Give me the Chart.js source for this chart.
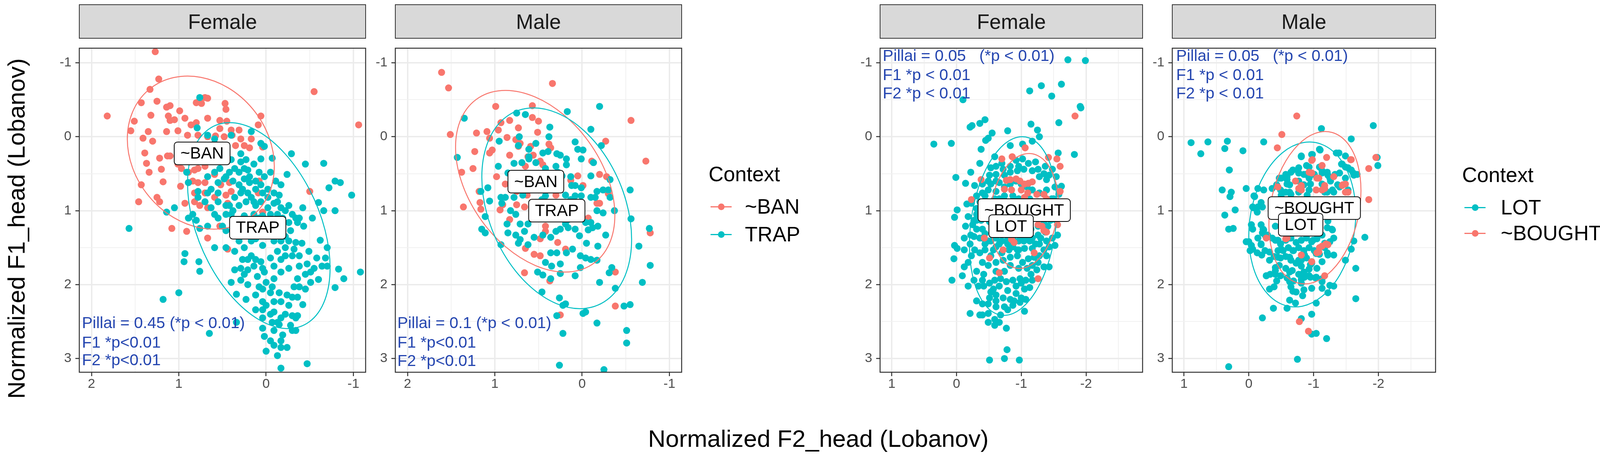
<!DOCTYPE html>
<html>
<head>
<meta charset="utf-8">
<script src="https://cdn.jsdelivr.net/npm/chart.js@4.4.1/dist/chart.umd.min.js"></script>
<style>
  body { margin: 0; background: #fff; width: 4115px; height: 1170px; position: relative; overflow: hidden;
         font-family: "Liberation Sans", Arial, sans-serif; }
  canvas { position: absolute; }
  .strip { position: absolute; top: 11px; height: 88px; background: #d9d9d9; border: 2.5px solid #333;
           box-sizing: border-box; display: flex; align-items: center; justify-content: center;
           font-size: 53px; color: #1a1a1a; }
  .lg { position: absolute; font-size: 53px; line-height: 53px; color: #000; white-space: nowrap; }
  .key-line { position: absolute; height: 3px; width: 54px; }
  .key-dot { position: absolute; width: 17px; height: 17px; border-radius: 50%; }
  .title { position: absolute; font-size: 62px; line-height: 62px; color: #000; white-space: nowrap; }
</style>
</head>
<body>
<div id="root"></div>
<div class="title" style="left:2095px; top:1092px; transform:translateX(-50%);">Normalized F2_head (Lobanov)</div>
<div class="title" style="left:42px; top:585px; transform:translate(-50%,-50%) rotate(-90deg);">Normalized F1_head (Lobanov)</div>
<script>
// ---- data (Normalized F2 = x, Normalized F1 = y) ----
var xTicksBan = [-1, -0.5, 0, 0.5, 1, 1.5, 2];
var xTicksLot = [-2.5, -2, -1.5, -1, -0.5, 0, 0.5, 1];
var yTicks = [-1, -0.5, 0, 0.5, 1, 1.5, 2, 2.5, 3];

var femaleBan = [[1.27,-1.15],[1.23,-0.78],[1.33,-0.64],[1.43,-0.46],[1.25,-0.48],[1.82,-0.28],[1.51,-0.21],[1.55,-0.08],[1.32,-0.29],[1.14,-0.40],[1.10,-0.42],[0.99,-0.35],[0.80,-0.46],[0.74,-0.45],[0.67,-0.52],[0.70,-0.53],[0.76,-0.50],[0.47,-0.45],[0.46,-0.37],[1.12,-0.28],[1.10,-0.22],[1.05,-0.23],[0.93,-0.25],[0.86,-0.16],[0.80,-0.19],[0.67,-0.25],[0.53,-0.22],[0.45,-0.21],[0.53,-0.11],[0.40,-0.09],[0.31,-0.09],[1.35,-0.07],[1.41,0.02],[1.30,0.06],[1.14,-0.07],[1.01,-0.08],[0.90,-0.02],[0.78,-0.02],[0.67,0.00],[0.58,-0.01],[0.48,0.00],[0.39,-0.02],[0.29,0.03],[0.17,0.03],[0.06,-0.28],[0.09,-0.16],[0.04,0.14],[0.19,0.15],[0.25,0.12],[0.35,0.12],[1.39,0.22],[1.37,0.36],[1.34,0.48],[1.22,0.29],[1.20,0.44],[1.18,0.61],[1.13,0.26],[1.10,0.26],[1.01,0.37],[0.97,0.43],[0.89,0.48],[0.82,0.45],[0.78,0.43],[0.70,0.40],[1.43,0.65],[1.46,0.88],[1.22,0.88],[1.25,0.82],[0.98,0.67],[0.89,0.62],[0.84,0.60],[0.78,0.62],[0.70,0.62],[0.59,0.51],[0.52,0.65],[0.42,0.62],[0.40,0.74],[0.46,0.79],[0.44,0.90],[0.59,0.82],[0.70,0.76],[0.82,0.76],[0.82,0.88],[0.93,0.90],[0.76,0.93],[0.67,0.96],[0.08,0.60],[0.09,0.76],[0.04,1.02],[1.08,1.24],[0.91,1.28],[0.67,1.37],[0.53,1.21],[0.44,1.52],[-0.50,0.74],[-0.55,-0.61],[-1.06,-0.16],[0.59,0.09]];

var femaleTrap = [[0.76,-0.53],[0.79,-0.12],[0.67,-0.02],[0.59,0.03],[0.40,-0.02],[0.17,-0.07],[0.06,0.09],[0.02,0.13],[-0.07,0.29],[0.06,0.30],[-0.29,0.23],[-0.45,0.37],[-0.66,0.36],[-0.79,0.60],[-0.85,0.62],[-0.72,0.69],[-0.98,0.79],[-0.79,1.00],[-0.60,0.89],[-0.66,1.00],[-0.53,1.10],[-0.42,0.96],[-0.34,1.10],[-0.43,1.21],[-0.36,1.16],[-0.28,1.27],[-0.34,1.43],[-0.41,1.44],[-0.62,1.40],[-0.70,1.50],[-0.68,1.64],[-0.70,1.75],[-0.83,1.79],[-0.89,1.92],[-0.79,2.04],[-1.08,1.83],[-0.60,1.93],[-0.51,1.97],[-0.45,2.06],[-0.42,2.27],[-0.34,2.45],[-0.30,2.62],[-0.24,2.85],[-0.13,2.96],[-0.17,3.13],[-0.47,3.07],[-0.05,2.76],[0.02,2.70],[0.04,2.59],[-0.19,2.68],[-0.28,2.55],[-0.17,2.45],[-0.09,2.37],[0.00,2.28],[0.04,2.23],[0.12,2.14],[0.23,2.20],[0.34,2.13],[0.40,1.97],[0.36,1.80],[0.25,1.86],[0.14,1.75],[0.06,1.69],[-0.05,1.64],[-0.13,1.55],[-0.22,1.61],[-0.32,1.52],[-0.49,1.55],[-0.58,1.64],[-0.38,1.75],[-0.26,1.78],[-0.17,1.83],[-0.09,1.92],[0.00,1.97],[0.08,2.03],[-0.07,2.03],[-0.15,2.11],[-0.24,2.14],[-0.32,2.03],[-0.36,1.92],[-0.45,1.86],[0.17,1.61],[0.25,1.50],[0.31,1.41],[0.38,1.33],[0.46,1.27],[0.50,1.21],[0.55,1.10],[0.59,1.05],[0.63,0.96],[0.70,0.88],[0.78,0.82],[0.84,1.05],[0.89,1.10],[0.80,1.13],[0.76,1.24],[0.67,1.21],[0.59,1.50],[0.46,1.50],[0.93,1.58],[0.94,1.69],[0.77,1.69],[0.76,1.82],[1.00,2.11],[1.18,2.20],[1.57,1.24],[1.14,1.02],[1.05,0.96],[0.91,0.48],[0.89,0.62],[0.78,0.74],[0.67,0.76],[0.63,0.71],[0.55,0.62],[0.48,0.57],[0.42,0.48],[0.36,0.43],[0.29,0.34],[0.23,0.31],[0.14,0.37],[0.08,0.48],[0.02,0.54],[-0.05,0.48],[-0.11,0.60],[-0.17,0.65],[-0.24,0.51],[-0.15,0.79],[-0.09,0.90],[-0.02,0.96],[-0.17,0.96],[-0.26,0.93],[0.04,0.76],[0.12,0.71],[0.19,0.62],[0.25,0.57],[0.31,0.65],[0.29,0.76],[0.36,0.82],[0.42,0.93],[0.31,0.93],[0.23,0.88],[0.17,0.82],[0.12,0.93],[0.04,1.07],[-0.05,1.16],[-0.13,1.27],[-0.22,1.35],[-0.26,1.16],[-0.19,1.10],[0.14,1.05],[0.25,1.07],[0.34,1.13],[0.40,1.05],[0.46,1.05],[0.55,0.88],[0.59,0.48],[0.67,0.54],[0.53,0.43],[0.40,0.31],[0.29,0.23],[0.21,0.45],[0.12,1.38],[0.04,1.47],[-0.09,1.41],[-0.17,1.41],[-0.26,1.41],[0.08,1.27],[0.19,1.27],[0.27,1.24],[0.36,1.55],[0.27,1.66],[0.21,1.80],[0.10,1.89],[0.02,1.83],[0.65,2.66],[0.34,2.51],[-0.07,2.51],[-0.15,2.54],[-0.36,2.42],[0.00,2.90],[-0.17,2.76],[-0.30,2.42],[-0.36,2.17],[0.12,2.34],[0.04,2.45],[-0.09,2.23],
  [0.46,0.54],[0.38,0.60],[0.31,0.48],[0.25,0.43],[0.19,0.54],[0.12,0.60],[0.06,0.65],[-0.02,0.71],[-0.09,0.76],[0.27,0.71],[0.21,0.76],[0.14,0.88],[0.06,0.88],[-0.02,0.82],[-0.13,0.88],[-0.22,1.00],[-0.30,1.05],[-0.38,1.10],[-0.13,1.05],[-0.05,1.05],[0.08,1.10],[0.17,1.16],[0.25,1.33],[0.17,1.41],[0.04,1.33],[-0.22,1.50],[-0.30,1.61],[-0.38,1.61],[-0.47,1.72],[-0.51,1.83],[-0.17,1.66],[-0.09,1.75],[0.04,1.78],[0.12,1.66],[0.21,1.66],[0.29,1.78],[0.29,1.94],[0.21,2.00],[0.04,2.06],[-0.05,2.11],[-0.17,2.23],[-0.26,2.28],[-0.30,2.17],[-0.38,2.03],[-0.55,1.78],[-0.64,1.75],[-0.05,2.40],[-0.13,2.51],[-0.22,2.40],[0.04,2.34],[-0.34,2.62],[-0.09,2.62],[-0.17,2.85],[-0.09,2.82],[0.55,0.76],[0.46,0.93],[0.38,1.00]];

var maleBan = [[1.61,-0.87],[1.53,-0.66],[1.51,-0.03],[0.99,-0.41],[0.57,-0.42],[0.34,-0.72],[-0.56,-0.22],[-0.73,0.33],[-0.27,0.06],[1.21,-0.05],[1.09,-0.07],[1.06,0.02],[0.96,-0.09],[0.93,-0.19],[0.83,-0.22],[0.73,-0.12],[0.57,-0.26],[0.50,-0.21],[0.51,-0.06],[0.86,0.01],[0.76,0.04],[0.71,0.09],[1.23,0.20],[1.06,0.22],[1.03,0.18],[0.83,0.25],[0.73,0.13],[0.59,0.13],[0.62,0.27],[0.56,0.25],[0.48,0.33],[0.45,0.38],[0.65,0.40],[0.38,0.10],[0.36,0.15],[1.25,0.43],[1.38,0.48],[0.98,0.54],[0.88,0.64],[0.75,0.74],[0.56,0.66],[0.42,0.59],[0.30,0.79],[0.13,0.59],[0.05,0.53],[-0.01,0.66],[-0.20,0.51],[-0.28,0.54],[-0.30,0.77],[1.18,0.74],[1.17,0.89],[1.16,0.98],[1.36,0.95],[0.94,0.99],[0.91,0.92],[0.75,0.92],[0.66,0.95],[0.83,1.12],[0.63,0.79],[0.55,0.92],[0.42,1.21],[0.42,1.28],[0.48,1.38],[0.28,1.43],[0.19,1.52],[0.55,1.59],[0.48,1.61],[0.65,1.51],[0.66,1.84],[0.37,1.95],[0.25,2.41],[-0.07,1.10],[-0.17,0.90],[-0.20,0.90],[-0.38,1.83],[-0.38,2.29],[-0.78,1.30],[-0.11,0.33]];

var maleTrap = [[1.35,-0.25],[1.43,0.28],[0.75,-0.32],[0.65,-0.30],[0.17,-0.34],[-0.20,-0.41],[-0.10,-0.10],[0.37,-0.13],[0.38,0.00],[0.08,0.07],[0.05,0.17],[-0.01,0.18],[0.95,0.06],[0.72,0.00],[0.73,0.12],[0.61,0.17],[0.53,0.09],[0.45,0.22],[0.39,0.20],[0.29,0.23],[0.25,0.25],[0.18,0.30],[0.18,0.38],[0.01,0.30],[-0.13,0.35],[-0.10,0.53],[-0.32,0.58],[-0.55,0.72],[-0.56,1.11],[-0.77,1.24],[-0.78,1.74],[-0.65,1.48],[-0.69,1.97],[-0.55,2.27],[-0.48,2.29],[-0.51,2.62],[-0.51,2.79],[-0.17,2.52],[-0.25,3.15],[0.26,3.09],[0.22,2.66],[0.29,2.42],[-0.01,2.39],[-0.04,2.37],[0.19,2.26],[0.22,2.28],[0.26,2.18],[0.46,2.10],[-0.20,1.97],[-0.31,1.84],[-0.34,1.77],[-0.38,2.05],[0.02,1.77],[0.08,1.88],[0.25,1.85],[0.36,1.92],[0.45,1.87],[0.51,1.83],[0.35,1.75],[0.25,1.72],[0.42,1.70],[0.36,1.57],[0.29,1.57],[0.18,1.57],[0.11,1.52],[0.02,1.61],[-0.04,1.64],[-0.10,1.66],[-0.17,1.67],[-0.05,1.44],[-0.18,1.48],[-0.27,1.33],[-0.18,1.21],[-0.12,1.23],[-0.07,1.26],[0.03,1.34],[0.08,1.25],[0.16,1.23],[0.19,1.18],[0.25,1.25],[0.30,1.28],[0.36,1.36],[0.45,1.33],[0.55,1.36],[0.62,1.46],[0.71,1.39],[0.73,1.44],[0.76,1.33],[0.85,1.30],[0.86,1.18],[0.71,1.18],[0.66,1.28],[0.93,1.46],[1.11,1.30],[1.15,1.25],[1.11,1.08],[1.06,0.87],[0.92,0.90],[0.93,0.82],[1.08,0.69],[1.16,0.74],[0.96,0.40],[0.85,0.49],[0.78,0.36],[0.69,0.35],[0.61,0.30],[0.53,0.35],[0.42,0.43],[0.30,0.40],[0.28,0.48],[0.23,0.53],[0.13,0.54],[0.12,0.66],[0.08,0.66],[0.01,0.69],[-0.10,0.82],[-0.15,0.82],[-0.17,0.74],[-0.24,0.72],[-0.30,0.72],[-0.32,0.82],[-0.37,1.00],[-0.24,1.03],[-0.17,1.00],[-0.10,1.16],[-0.04,1.16],[0.03,0.92],[0.13,0.85],[0.19,0.79],[0.28,0.92],[0.36,0.97],[0.48,1.08],[0.56,1.05],[0.62,1.18],[0.76,1.05],[0.82,1.00],[0.68,0.79],[0.78,0.82],[0.88,0.82],[0.16,1.12],[0.26,1.05],[0.42,0.80],[0.46,0.85],[0.25,0.66],[0.08,0.80],[0.01,0.80],[-0.22,0.12],[0.53,0.89],[0.36,1.10],[0.61,0.27]];

var femaleLot = [[-1.72,-1.04],[-1.99,-1.03],[-1.13,-0.62],[-1.31,-0.69],[-1.62,-0.71],[-1.47,-0.55],[-0.10,-0.50],[-1.91,-0.41],[-0.78,2.88],[-0.51,3.02],[-0.74,3.00],[-0.97,3.02],[-1.92,-0.39],[-1.58,-0.19],[-1.15,-0.17],[-1.25,-0.09],[-1.28,0.00],[-1.17,0.06],[-0.44,-0.23],[-0.36,-0.18],[-0.21,-0.13],[-0.24,-0.15],[-0.55,-0.05],[-0.49,0.02],[-0.45,0.05],[-0.79,-0.08],[0.35,0.10],[0.08,0.09],[-0.38,0.17],[-0.83,0.12],[-1.02,0.10],[-1.57,0.22],[-1.82,0.24],[-0.59,0.27],[-0.36,0.36],[-0.22,0.48],[0.01,0.55],[-0.14,0.63],[-0.28,0.66],[-0.53,0.42],[-0.51,0.52],[-0.61,0.51],[-0.72,0.44],[-0.83,0.48],[-0.92,0.32],[-1.02,0.30],[-1.11,0.36],[-1.22,0.34],[-1.37,0.40],[-1.48,0.44],[-1.54,0.54],[-1.62,0.67],[-1.39,0.58],[-1.28,0.54],[-1.17,0.46],[-0.94,0.46],[-0.74,0.52],[-0.66,0.62],[-0.53,0.64],[-0.49,0.72],[-0.40,0.76],[-0.31,0.80],[-0.23,0.90],[-0.16,0.91],[-0.01,0.99],[0.03,1.09],[-0.18,1.08],[-0.14,1.21],[-0.25,1.19],[-0.31,1.13],[-0.40,1.25],[-0.44,1.31],[-0.36,1.37],[-0.27,1.35],[-0.22,1.33],[-0.21,1.45],[-0.01,1.51],[0.03,1.47],[0.04,1.65],[0.07,1.94],[-0.09,1.88],[-0.12,1.76],[-0.18,1.70],[-0.28,1.53],[-0.36,1.57],[-0.44,1.53],[-0.53,1.61],[-0.61,1.70],[-0.72,1.67],[-0.83,1.63],[-0.94,1.61],[-1.02,1.70],[-1.11,1.65],[-1.20,1.63],[-1.28,1.61],[-1.35,1.53],[-1.43,1.76],[-1.35,1.76],[-1.24,1.80],[-1.15,1.86],[-1.07,1.94],[-0.98,1.92],[-0.87,1.94],[-0.77,1.96],[-0.68,1.92],[-0.59,1.94],[-0.51,1.98],[-0.42,1.86],[-0.34,2.02],[-0.42,2.02],[-0.53,2.10],[-0.61,2.14],[-0.72,2.18],[-0.83,2.20],[-0.92,2.12],[-1.05,2.06],[-1.13,2.04],[-1.07,2.20],[-0.98,2.24],[-0.87,2.28],[-0.74,2.30],[-0.61,2.22],[-0.51,2.18],[-0.68,2.41],[-0.59,2.47],[-0.49,2.39],[-0.40,2.41],[-0.36,2.41],[-0.21,2.39],[-0.59,2.55],[-0.77,2.59],[-1.05,2.36],[-0.96,1.41],[-0.87,1.37],[-0.77,1.41],[-0.66,1.45],[-0.61,1.37],[-0.74,1.31],[-0.83,1.29],[-0.92,1.27],[-1.00,1.33],[-1.09,1.35],[-1.17,1.37],[-1.26,1.33],[-1.37,1.29],[-1.41,1.21],[-1.45,1.13],[-1.35,1.17],[-1.50,1.01],[-1.54,0.90],[-1.50,0.84],[-1.58,0.78],[-1.39,0.72],[-1.28,0.76],[-1.17,0.72],[-1.09,0.68],[-1.00,0.64],[-0.92,0.60],[-0.83,0.64],[-0.74,0.68],[-0.61,0.74],[-0.59,0.84],[-0.49,0.88],[-0.40,1.01],[-0.31,1.05],[-0.38,1.13],[-0.51,1.15],[-0.61,1.13],[-0.72,1.17],[-0.83,1.19],[-0.94,1.19],[-1.05,1.21],[-1.15,1.25],[-1.26,1.21],[-1.30,1.09],[-1.39,1.05],[-1.48,1.37],[-1.52,1.47],[-1.56,1.33],[-1.54,1.13],[-1.28,1.45],[-1.17,1.51],[-1.05,1.51],[-0.94,1.53],[-0.81,1.53],[-0.70,1.57],[-0.57,1.53],[-0.49,1.41],
  [-0.61,0.40],[-0.70,0.36],[-0.83,0.40],[-0.96,0.40],[-1.04,0.44],[-1.26,0.44],[-1.35,0.50],[-1.43,0.52],[-0.61,0.60],[-0.49,0.60],[-0.40,0.64],[-0.44,0.80],[-0.36,0.88],[-0.31,0.97],[-0.49,1.01],[-0.53,0.93],[-0.66,0.84],[-0.74,0.80],[-0.87,0.80],[-0.96,0.84],[-1.13,0.84],[-1.26,0.88],[-1.35,0.92],[-1.43,0.96],[-1.47,0.84],[-1.52,0.68],[-0.31,1.25],[-0.40,1.37],[-0.44,1.45],[-0.53,1.41],[-0.61,1.49],[-0.70,1.41],[-0.79,1.45],[-0.87,1.49],[-0.96,1.53],[-1.04,1.41],[-1.13,1.41],[-1.22,1.45],[-1.30,1.37],[-1.39,1.41],[-1.43,1.49],[-1.39,1.61],[-1.26,1.70],[-1.17,1.74],[-1.09,1.78],[-0.96,1.78],[-0.83,1.74],[-0.74,1.82],[-0.61,1.82],[-0.49,1.74],[-0.40,1.70],[-0.31,1.82],[-0.27,1.94],[-0.40,1.94],[-0.66,2.02],[-0.79,2.08],[-0.92,2.02],[-1.00,1.98],[-1.17,1.94],[-0.57,2.06],[-0.49,2.26],[-0.61,2.30],[-0.79,2.34],[-0.89,2.22],[-1.00,2.18],[-0.49,2.51],[-0.66,2.51],[-0.40,2.26],[-0.31,2.22],[-0.18,2.02],[-0.23,1.61],[-0.12,1.53],[-0.12,1.37],[-0.27,1.13],[-0.38,1.01]];

var femaleBought = [[-1.83,-0.28],[-1.06,0.15],[-0.70,0.30],[-0.86,0.27],[-1.42,0.28],[-1.55,0.30],[-1.60,0.40],[-0.38,0.58],[-0.23,0.85],[-0.77,0.59],[-0.83,0.58],[-0.92,0.57],[-0.98,0.60],[-1.05,0.64],[-1.11,0.63],[-1.17,0.61],[-0.74,0.71],[-0.85,0.72],[-1.00,0.72],[-1.10,0.76],[-1.24,0.78],[-1.35,0.78],[-1.39,0.84],[-1.60,0.74],[-1.26,1.19],[-1.35,1.27],[-1.39,1.29],[-1.56,1.19],[-1.32,1.21],[-0.85,1.39],[-0.89,1.43],[-0.72,1.53],[-1.20,1.57],[-0.66,1.84],[-1.26,1.92],[-0.51,1.64],[-0.43,1.37],[-1.05,0.82]];

var maleLot = [[0.89,0.08],[0.74,0.23],[0.63,0.07],[0.33,0.06],[0.37,0.16],[0.09,0.19],[-0.23,0.07],[0.30,0.45],[0.41,0.72],[0.27,0.75],[0.29,0.81],[0.04,0.70],[0.37,1.06],[0.21,0.99],[0.31,1.25],[0.24,1.24],[-0.09,0.81],[-0.14,0.70],[-0.23,0.72],[-0.36,0.70],[-0.07,0.96],[-0.14,0.95],[0.00,1.42],[-0.06,1.52],[-0.19,1.46],[-0.22,1.25],[-0.25,1.33],[-0.06,1.25],[-0.36,1.37],[-0.41,1.21],[-0.46,0.98],[-0.50,0.56],[-0.59,0.54],[-0.68,0.45],[-0.77,0.49],[-0.88,0.51],[-1.01,0.51],[-1.13,0.49],[-1.22,0.52],[-1.26,0.60],[-1.40,0.49],[-1.58,0.45],[-1.67,0.51],[-1.44,0.37],[-1.49,0.26],[-1.35,0.22],[-1.58,0.03],[-1.10,0.18],[-0.98,0.24],[-0.81,0.26],[-1.12,-0.11],[-1.92,-0.15],[-1.98,0.28],[-1.99,0.39],[-1.79,1.36],[-1.65,1.78],[-1.65,2.19],[-1.49,1.67],[-1.62,1.41],[-1.31,2.02],[-1.22,2.11],[-1.04,2.25],[-0.97,2.40],[-0.83,2.15],[-0.81,2.46],[-0.72,2.25],[-0.63,2.21],[-0.59,2.32],[-0.38,2.32],[-0.21,2.45],[-0.97,2.67],[-1.04,2.66],[-1.20,2.73],[-0.75,3.01],[0.31,3.11],[-0.32,2.06],[-0.27,1.88],[-0.41,1.86],[-0.63,1.96],[-0.86,1.90],[-1.04,1.90],[-1.13,1.92],[-0.63,1.83],[-0.41,1.77],[-0.32,1.67],[-0.45,1.63],[-0.63,1.63],[-0.77,1.67],[-0.95,1.73],[-1.13,1.69],[-1.22,1.60],[-1.04,1.58],[-0.86,1.60],[-0.68,1.54],[-0.50,1.52],[-0.45,1.40],[-0.63,1.37],[-0.81,1.40],[-0.99,1.40],[-1.17,1.44],[-1.31,1.37],[-1.28,1.25],[-1.22,1.14],[-1.31,1.06],[-1.13,1.06],[-0.99,1.16],[-1.22,1.00],[-1.04,0.98],[-0.90,0.79],[-0.77,0.75],[-0.63,0.75],[-0.50,0.79],[-0.59,0.64],[-0.77,0.60],[-0.95,0.64],[-1.13,0.64],[-1.31,0.75],[-1.17,0.75],[-1.40,0.68],[-1.53,0.72],[-1.44,0.87],[-1.35,0.95],[-1.22,0.89],[-0.77,0.98],[-0.54,0.95],[-0.41,0.98],[-0.68,1.14],[-1.31,1.60],[-1.58,1.52],[-0.81,1.75],[-0.95,1.90],[-0.81,1.98],[-0.68,2.09],[-1.49,0.56],[-1.62,0.52],[-0.54,1.29],[-0.72,1.25],[-0.90,1.25],[-1.04,1.29],[-0.32,1.56],[-0.20,1.60],[-0.14,1.37],
  [-0.47,0.56],[-0.57,0.51],[-0.65,0.48],[-0.77,0.49],[-0.85,0.51],[-0.93,0.56],[-1.01,0.51],[-1.13,0.46],[-1.21,0.48],[-1.25,0.56],[-1.33,0.51],[-1.37,0.65],[-1.29,0.72],[-1.21,0.75],[-0.93,0.72],[-0.85,0.65],[-0.63,0.65],[-0.57,0.75],[-0.65,0.78],[-0.49,0.72],[-0.43,0.65],[-0.59,0.58],[-0.77,0.42],[-0.93,0.41],[-1.09,0.41],[-0.97,0.24],[-0.81,0.27],[-0.89,0.39],[-1.53,0.42],[-1.61,0.49],[-1.49,0.41],[-1.43,0.37],[-1.39,0.22],[-1.09,0.17],[-0.08,0.80],[-0.19,0.89],[-0.06,0.95],[-0.21,0.95],[-0.13,1.02],[-0.04,1.19],[-0.19,1.19],[-0.23,1.26],[-0.29,1.33],[-0.21,1.30],[0.04,1.42],[-0.04,1.47],[-0.13,1.57],[-0.02,1.54],[-0.19,1.45],[-0.25,1.54],[-0.41,1.40],[-0.49,1.45],[-0.57,1.40],[-0.65,1.37],[-0.73,1.43],[-0.81,1.40],[-0.89,1.37],[-0.97,1.42],[-1.05,1.38],[-1.13,1.33],[-1.21,1.23],[-1.29,1.26],[-1.25,1.42],[-1.17,1.50],[-1.21,1.57],[-1.09,1.59],[-1.01,1.54],[-0.93,1.50],[-0.85,1.54],[-0.77,1.50],[-0.69,1.54],[-0.61,1.50],[-0.53,1.54],[-0.45,1.54],[-0.39,1.62],[-0.49,1.64],[-0.57,1.62],[-0.65,1.67],[-0.73,1.71],[-0.81,1.67],[-0.89,1.64],[-0.97,1.71],[-1.05,1.78],[-0.93,1.79],[-0.85,1.83],[-0.77,1.86],[-0.67,1.81],[-0.57,1.78],[-0.47,1.74],[-0.41,1.81],[-0.49,1.88],[-0.59,1.91],[-0.69,1.95],[-0.81,1.93],[-0.93,1.88],[-1.03,1.91],[-1.13,1.96],[-0.97,2.05],[-0.85,2.07],[-0.73,2.10],[-0.65,2.03],[-0.43,1.95],[-0.33,1.86],[-0.27,1.88],[-0.39,2.03],[-1.13,2.05],[-1.25,2.01]];

var maleBought = [[-0.74,-0.28],[-0.51,-0.03],[-0.44,0.15],[-0.98,0.31],[-1.20,0.28],[-1.13,0.39],[-0.97,0.49],[-1.08,0.56],[-1.31,0.54],[-0.72,0.60],[-0.81,0.72],[-1.04,0.72],[-1.17,0.70],[-1.49,0.64],[-1.58,0.31],[-1.85,0.43],[-1.85,0.85],[-1.96,0.28],[-1.53,0.75],[-0.81,0.68],[-0.59,1.37],[-1.13,1.48],[-1.22,1.46],[-1.08,1.56],[-0.97,1.69],[-0.81,1.60],[-1.17,1.88],[-0.27,1.37],[-0.78,2.50],[-0.92,2.63],[-1.44,0.66],[-0.45,0.68],
  [-0.97,0.32],[-0.93,0.48],[-1.05,0.56],[-1.13,0.39],[-0.77,0.70],[-0.81,0.66],[-1.13,0.72],[-1.17,0.66],[-1.49,0.75],[-1.45,0.65],[-1.57,0.31],[-0.57,1.38],[-1.09,1.50],[-1.05,1.57],[-0.97,1.69],[-1.19,1.45]];

// ellipses: [centre x, centre y, half width (x), half height (y), y offset at the x-extreme]
var femaleBanEllipse = [0.748, 0.215, 0.842, 1.035, -0.185];
var femaleTrapEllipse = [0.0835, 1.2025, 0.8165, 1.3925, -0.57];
var maleBanEllipse = [0.5375, 0.602, 0.9125, 1.228, -0.46];
var maleTrapEllipse = [0.291, 0.9675, 0.858, 1.3575, -0.42];
var femaleLotEllipse = [-0.875, 1.208, 0.675, 1.208, 0.25];
var femaleBoughtEllipse = [-1.045, 1.004, 0.525, 0.777, 0.11];
var maleLotEllipse = [-0.825, 1.187, 0.825, 1.115, 0.15];
var maleBoughtEllipse = [-1.02, 0.96, 0.71, 1.03, 0.23];

var pillaiBan = ['Pillai = 0.45 (*p < 0.01)', 'Pillai = 0.1 (*p < 0.01)'];
var pillaiLot = ['Pillai = 0.05   (*p < 0.01)', 'Pillai = 0.05   (*p < 0.01)'];

var RED = '#F8766D', TEAL = '#00BFC4', NOTE = '#2546b0';
var FONT = '"Liberation Sans", Arial, sans-serif';

var panels = [
  { left: 203, width: 733, strip: 'Female', xr: [-1.14, 2.14], xTicks: xTicksBan,
    series: [{ data: femaleTrap, color: TEAL }, { data: femaleBan, color: RED }],
    ellipses: [{ p: femaleBanEllipse, color: RED }, { p: femaleTrapEllipse, color: TEAL }],
    labels: [{ text: '~BAN', at: [0.733, 0.226] }, { text: 'TRAP', at: [0.096, 1.23] }],
    notes: { x: 2.11, y: [2.53, 2.79, 3.03], lines: [pillaiBan[0], 'F1 *p<0.01', 'F2 *p<0.01'] } },
  { left: 1012, width: 733, strip: 'Male', xr: [-1.14, 2.14], xTicks: xTicksBan,
    series: [{ data: maleTrap, color: TEAL }, { data: maleBan, color: RED }],
    ellipses: [{ p: maleBanEllipse, color: RED }, { p: maleTrapEllipse, color: TEAL }],
    labels: [{ text: '~BAN', at: [0.53, 0.608] }, { text: 'TRAP', at: [0.29, 1.0] }],
    notes: { x: 2.117, y: [2.53, 2.79, 3.04], lines: [pillaiBan[1], 'F1 *p<0.01', 'F2 *p<0.01'] } },
  { left: 2253, width: 672, strip: 'Female', xr: [-2.873, 1.18], xTicks: xTicksLot,
    series: [{ data: femaleBought, color: RED }, { data: femaleLot, color: TEAL }],
    ellipses: [{ p: femaleLotEllipse, color: TEAL }, { p: femaleBoughtEllipse, color: RED }],
    labels: [{ text: '~BOUGHT', at: [-1.045, 0.993] }, { text: 'LOT', at: [-0.843, 1.21] }],
    notes: { x: 1.139, y: [-1.083, -0.824, -0.578], lines: [pillaiLot[0], 'F1 *p < 0.01', 'F2 *p < 0.01'] } },
  { left: 3001, width: 674, strip: 'Male', xr: [-2.88, 1.18], xTicks: xTicksLot,
    series: [{ data: maleBought, color: RED }, { data: maleLot, color: TEAL }],
    ellipses: [{ p: maleLotEllipse, color: TEAL }, { p: maleBoughtEllipse, color: RED }],
    labels: [{ text: '~BOUGHT', at: [-1.01, 0.965] }, { text: 'LOT', at: [-0.80, 1.19] }],
    notes: { x: 1.12, y: [-1.083, -0.824, -0.578], lines: [pillaiLot[1], 'F1 *p < 0.01', 'F2 *p < 0.01'] } }
];

var legends = [
  { left: 1814, titleY: 446, keyX: 1846, textX: 1907, items: [['~BAN', RED, 529], ['TRAP', TEAL, 600]] },
  { left: 3743, titleY: 448, keyX: 3776, textX: 3842, items: [['LOT', TEAL, 531], ['~BOUGHT', RED, 597]] }
];

var PANEL_TOP = 97, PANEL_H = 856, Y_AXIS_W = 70, X_AXIS_H = 70;

function isMajor(v) { return Math.abs(v - Math.round(v)) < 1e-9; }

var extrasPlugin = {
  id: 'extras',
  afterDatasetsDraw: function (chart) {
    var cfg = chart.config.options.plugins.extras;
    var ctx = chart.ctx, xs = chart.scales.x, ys = chart.scales.y, a = chart.chartArea;
    var sx = xs.getPixelForValue(1) - xs.getPixelForValue(0);
    var sy = ys.getPixelForValue(1) - ys.getPixelForValue(0);

    ctx.save();
    ctx.beginPath();
    ctx.rect(a.left, a.top, a.right - a.left, a.bottom - a.top);
    ctx.clip();
    cfg.ellipses.forEach(function (e) {
      var p = e.p;
      var m22 = Math.sqrt(p[3] * p[3] - p[4] * p[4]);
      ctx.save();
      ctx.translate(xs.getPixelForValue(p[0]), ys.getPixelForValue(p[1]));
      ctx.transform(sx * p[2], sy * p[4], 0, sy * m22, 0, 0);
      ctx.beginPath();
      ctx.arc(0, 0, 1, 0, Math.PI * 2);
      ctx.restore();
      ctx.strokeStyle = e.color;
      ctx.lineWidth = 2.5;
      ctx.stroke();
    });

    ctx.font = '42px ' + FONT;
    ctx.textAlign = 'center';
    ctx.textBaseline = 'middle';
    cfg.labels.forEach(function (l) {
      var px = xs.getPixelForValue(l.at[0]), py = ys.getPixelForValue(l.at[1]);
      var w = ctx.measureText(l.text).width + 32, h = 58;
      ctx.beginPath();
      ctx.roundRect(px - w / 2, py - h / 2, w, h, 8);
      ctx.fillStyle = '#fff';
      ctx.fill();
      ctx.strokeStyle = '#000';
      ctx.lineWidth = 2;
      ctx.stroke();
      ctx.fillStyle = '#000';
      ctx.fillText(l.text, px, py + 2);
    });

    ctx.font = '41px ' + FONT;
    ctx.textAlign = 'left';
    ctx.fillStyle = NOTE;
    cfg.notes.lines.forEach(function (t, i) {
      ctx.fillText(t, xs.getPixelForValue(cfg.notes.x), ys.getPixelForValue(cfg.notes.y[i]));
    });
    ctx.restore();

    ctx.save();
    ctx.strokeStyle = '#333';
    ctx.lineWidth = 2.5;
    ctx.strokeRect(a.left, a.top, a.right - a.left, a.bottom - a.top);
    ctx.restore();
  }
};

function gridOpts() {
  return {
    color: function (c) { return isMajor(c.tick.value) ? '#ebebeb' : '#f1f1f1'; },
    lineWidth: function (c) { return isMajor(c.tick.value) ? 3.5 : 2; },
    tickColor: function (c) { return isMajor(c.tick.value) ? '#333' : 'rgba(0,0,0,0)'; },
    tickWidth: 2.5,
    tickLength: 10,
    drawTicks: true
  };
}

function tickOpts(pad) {
  return {
    autoSkip: false, maxRotation: 0, padding: pad, color: '#4d4d4d',
    font: { family: FONT, size: 34 },
    callback: function (v) { return isMajor(v) ? String(Math.round(v)) : ''; }
  };
}

var root = document.getElementById('root');

panels.forEach(function (p) {
  var strip = document.createElement('div');
  strip.className = 'strip';
  strip.style.left = (p.left - 1) + 'px';
  strip.style.width = (p.width + 2) + 'px';
  strip.textContent = p.strip;
  root.appendChild(strip);

  var cv = document.createElement('canvas');
  cv.width = p.width + Y_AXIS_W + 4;
  cv.height = PANEL_H + 4 + X_AXIS_H;
  cv.style.left = (p.left - Y_AXIS_W) + 'px';
  cv.style.top = (PANEL_TOP - 4) + 'px';
  root.appendChild(cv);

  new Chart(cv, {
    type: 'scatter',
    data: {
      datasets: p.series.map(function (s) {
        return {
          data: s.data.map(function (d) { return { x: d[0], y: d[1] }; }),
          backgroundColor: s.color, borderWidth: 0,
          pointRadius: 9, pointHoverRadius: 9
        };
      })
    },
    options: {
      responsive: false, animation: false, devicePixelRatio: 1, events: [],
      layout: { padding: { top: 4, right: 4, left: 0, bottom: 0 }, autoPadding: false },
      plugins: {
        legend: { display: false }, tooltip: { enabled: false },
        extras: { ellipses: p.ellipses, labels: p.labels, notes: p.notes }
      },
      scales: {
        x: {
          type: 'linear', reverse: true, min: p.xr[0], max: p.xr[1],
          afterBuildTicks: function (s) { s.ticks = p.xTicks.map(function (v) { return { value: v }; }); },
          afterFit: function (s) { s.height = X_AXIS_H; },
          grid: gridOpts(), border: { display: false }, ticks: tickOpts(0)
        },
        y: {
          type: 'linear', reverse: true, min: -1.197, max: 3.185,
          afterBuildTicks: function (s) { s.ticks = yTicks.map(function (v) { return { value: v }; }); },
          afterFit: function (s) { s.width = Y_AXIS_W; },
          grid: gridOpts(), border: { display: false }, ticks: tickOpts(10)
        }
      }
    },
    plugins: [extrasPlugin]
  });
});

legends.forEach(function (lg) {
  var t = document.createElement('div');
  t.className = 'lg';
  t.style.left = lg.left + 'px';
  t.style.top = (lg.titleY - 27) + 'px';
  t.textContent = 'Context';
  root.appendChild(t);
  lg.items.forEach(function (it) {
    var line = document.createElement('div');
    line.className = 'key-line';
    line.style.background = it[1];
    line.style.left = (lg.keyX - 27) + 'px';
    line.style.top = (it[2] - 1.5) + 'px';
    root.appendChild(line);
    var dot = document.createElement('div');
    dot.className = 'key-dot';
    dot.style.background = it[1];
    dot.style.left = (lg.keyX - 8.5) + 'px';
    dot.style.top = (it[2] - 8.5) + 'px';
    root.appendChild(dot);
    var tx = document.createElement('div');
    tx.className = 'lg';
    tx.style.left = lg.textX + 'px';
    tx.style.top = (it[2] - 27) + 'px';
    tx.textContent = it[0];
    root.appendChild(tx);
  });
});
</script>
</body>
</html>
